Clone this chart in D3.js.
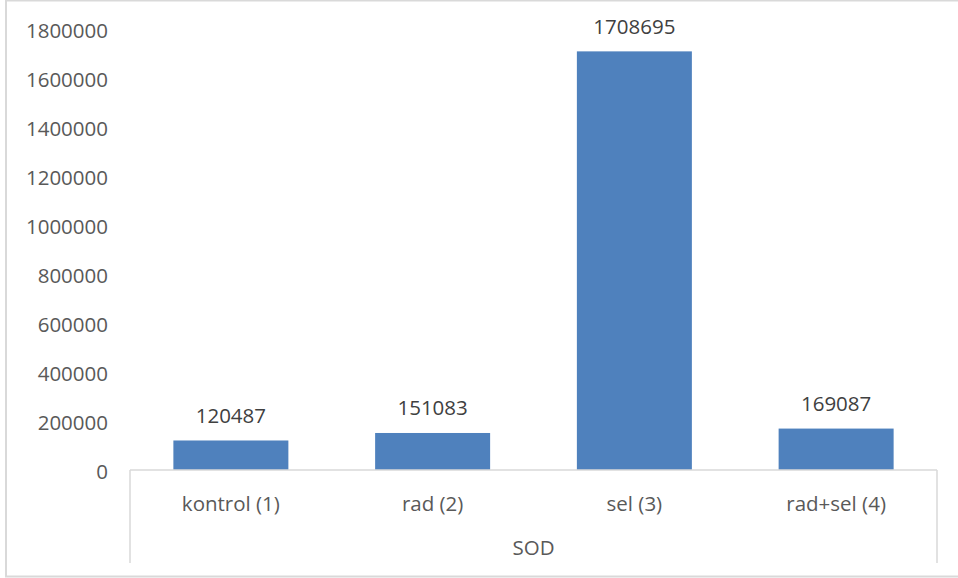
<!DOCTYPE html>
<html>
<head>
<meta charset="utf-8">
<script src="https://cdn.jsdelivr.net/npm/d3@7"></script>
<style>
  body { margin: 0; background: #fff; }
  svg { display: block; }
</style>
</head>
<body>
<svg id="chart"></svg>
<script>
const width = 958, height = 578

// data
const categories = ["kontrol (1)", "rad (2)", "sel (3)", "rad+sel (4)"]
const values = [120487, 151083, 1708695, 169087]
const groupLabel = "SOD"
const yTicks = [0, 200000, 400000, 600000, 800000, 1000000, 1200000, 1400000, 1600000, 1800000]

const margin = { left: 130, right: 21, top: 29, bottom: 108 }
const font = "'Open Sans', 'Liberation Sans', sans-serif"

const svg = d3.select("#chart")
    .attr("width", width)
    .attr("height", height)

// outer chart border (right side runs off the picture)
svg.append("rect")
    .attr("x", 6).attr("y", 0.5)
    .attr("width", 980).attr("height", 576)
    .attr("fill", "none")
    .attr("stroke", "#d9d9d9")
    .attr("stroke-width", 2)

const x = d3.scaleBand()
    .domain(categories)
    .range([margin.left, width - margin.right])
    .paddingInner(0.43)
    .paddingOuter(0.215)

const y = d3.scaleLinear()
    .domain([0, 1800000])
    .range([height - margin.bottom, margin.top])

// y axis labels, no line
const yAxis = svg.append("g")
    .attr("transform", `translate(${margin.left - 22},0)`)
    .call(d3.axisLeft(y).tickValues(yTicks).tickSize(0).tickPadding(0).tickFormat(d3.format("d")))
yAxis.select(".domain").remove()
yAxis.selectAll("text")
    .attr("font-family", font)
    .attr("font-size", 20.5)
    .attr("fill", "#595959")
    .attr("dy", "0.4em")

// bars
svg.append("g")
    .selectAll("rect")
    .data(values)
    .enter()
    .append("rect")
    .attr("x", (d, i) => x(categories[i]))
    .attr("y", d => y(d))
    .attr("width", x.bandwidth())
    .attr("height", d => y(0) - y(d))
    .attr("fill", "#4f81bd")

// value labels
svg.append("g")
    .selectAll("text")
    .data(values)
    .enter()
    .append("text")
    .attr("x", (d, i) => x(categories[i]) + x.bandwidth() / 2)
    .attr("y", d => y(d) - 25)
    .attr("dy", "0.36em")
    .attr("text-anchor", "middle")
    .attr("font-family", font)
    .attr("font-size", 20.5)
    .attr("fill", "#404040")
    .text(d => d)

// category axis: baseline and group separators
const x0 = margin.left, x1 = width - margin.right
const axisY = y(0)
const axis = svg.append("g")
    .attr("stroke", "#d9d9d9")
    .attr("stroke-width", 1.5)
axis.append("line")
    .attr("x1", x0).attr("x2", x1)
    .attr("y1", axisY).attr("y2", axisY)
axis.selectAll(".sep")
    .data([x0, x1])
    .enter()
    .append("line")
    .attr("x1", d => d).attr("x2", d => d)
    .attr("y1", axisY).attr("y2", 563)

svg.append("g")
    .selectAll("text")
    .data(categories)
    .enter()
    .append("text")
    .attr("x", d => x(d) + x.bandwidth() / 2)
    .attr("y", 503.5)
    .attr("dy", "0.36em")
    .attr("text-anchor", "middle")
    .attr("font-family", font)
    .attr("font-size", 20.5)
    .attr("fill", "#595959")
    .text(d => d)

svg.append("text")
    .attr("x", (x0 + x1) / 2)
    .attr("y", 548)
    .attr("dy", "0.36em")
    .attr("text-anchor", "middle")
    .attr("font-family", font)
    .attr("font-size", 20.5)
    .attr("fill", "#595959")
    .text(groupLabel)
</script>
</body>
</html>
